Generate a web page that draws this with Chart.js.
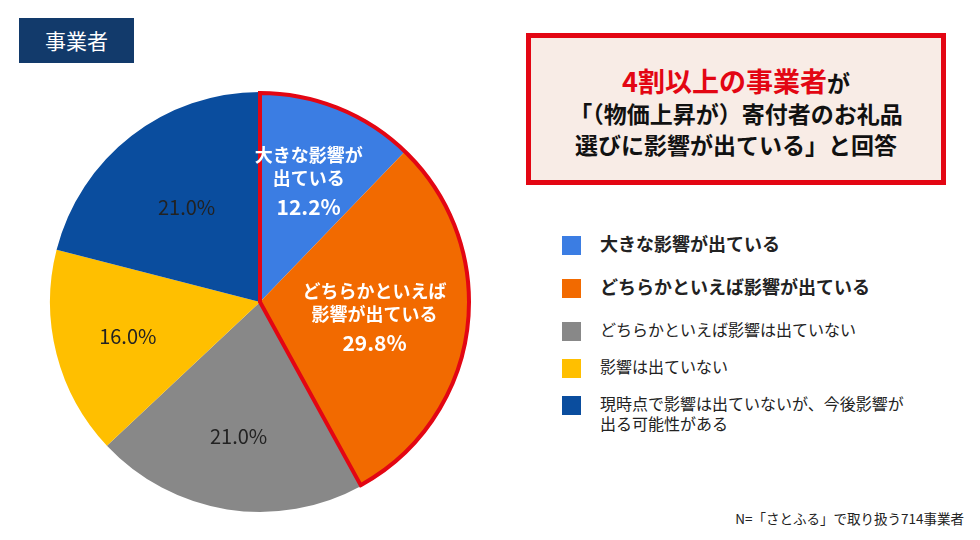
<!DOCTYPE html>
<html><head><meta charset="utf-8">
<script src="https://cdn.jsdelivr.net/npm/chart.js@4"></script>
<style>
body{margin:0;width:980px;height:540px;background:#fff;position:relative;font-family:"Noto Sans CJK JP",sans-serif;overflow:hidden}
#tag{position:absolute;left:19px;top:18px;width:115px;height:45px;background:#123a6b;color:#fff;font-size:21px;line-height:45px;text-align:center}
#wrap{position:absolute;left:40px;top:82px;width:440px;height:440px}
#box{position:absolute;left:526px;top:33px;width:420px;height:152px;box-sizing:border-box;border:5px solid #e30613;background:#f8ece6;text-align:center;font-weight:bold;font-size:23px;line-height:31px;padding-top:27px;color:#111}
#box .r{color:#e30613;font-size:27px}
#legend{position:absolute;left:562px;top:233px}
.it{position:relative;height:37px;padding-left:38px;font-size:16px;color:#222;line-height:20px}
.it i{position:absolute;left:0;top:3px;width:19px;height:19px}
.b{font-weight:bold;font-size:18px;height:43px}
#note{position:absolute;right:16px;top:508px;font-size:13.5px;color:#222}
</style></head><body>
<div id="tag">事業者</div>
<div id="wrap"><canvas id="c"></canvas></div>
<div id="box"><span class="r">4割以上の事業者</span>が<br>「（物価上昇が）寄付者のお礼品<br>選びに影響が出ている」と回答</div>
<div id="legend"></div>
<div id="note">N=「さとふる」で取り扱う714事業者</div>
<script>
const categories=["大きな影響が出ている","どちらかといえば影響が出ている","どちらかといえば影響は出ていない","影響は出ていない","現時点で影響は出ていないが、今後影響が\n出る可能性がある"];
const values=[12.2,29.8,21.0,16.0,21.0];
const colors=["#3b7de3","#f26a00","#888888","#ffbf00","#0a4d9e"];
const sliceLabels=[["大きな影響が","出ている"],["どちらかといえば","影響が出ている"],[],[],[]];
const labelR=[0.62,0.55,0.65,0.65,0.57];

const leg=document.getElementById('legend');
categories.forEach((c,i)=>{const d=document.createElement('div');d.className='it'+(i<2?' b':'');
d.innerHTML='<i style="background:'+colors[i]+'"></i>'+c.replace('\n','<br>');leg.appendChild(d);});

const plug={id:'p',afterDatasetsDraw(ch){
 const ctx=ch.ctx,meta=ch.getDatasetMeta(0);
 const a0=meta.data[0],a1=meta.data[1];
 ctx.save();ctx.strokeStyle='#e30613';ctx.lineWidth=4;ctx.lineJoin='miter';
 ctx.beginPath();ctx.moveTo(a0.x,a0.y);ctx.arc(a0.x,a0.y,a0.outerRadius-1,a0.startAngle,a1.endAngle);ctx.closePath();ctx.stroke();
 meta.data.forEach((a,i)=>{
  const m=(a.startAngle+a.endAngle)/2,r=a.outerRadius*labelR[i];
  const x=a.x+Math.cos(m)*r,y=a.y+Math.sin(m)*r;
  ctx.textAlign='center';ctx.textBaseline='middle';
  const pct=values[i].toFixed(1)+'%';
  if(sliceLabels[i].length){
   ctx.fillStyle='#fff';ctx.font='bold 18px "Noto Sans CJK JP"';
   const L=sliceLabels[i];
   ctx.fillText(L[0],x,y-26);ctx.fillText(L[1],x,y-3);
   ctx.font='bold 21px "Noto Sans CJK JP"';ctx.fillText(pct,x,y+26);
  } else {
   ctx.fillStyle='#222';ctx.font='20px "Noto Sans CJK JP"';ctx.fillText(pct,x,y);
  }
 });
 ctx.restore();}};

new Chart(document.getElementById('c'),{type:'pie',
 data:{labels:categories,datasets:[{data:values,backgroundColor:colors,borderWidth:0}]},
 options:{responsive:true,maintainAspectRatio:false,animation:false,layout:{padding:10},
  plugins:{legend:{display:false},tooltip:{enabled:false}}},
 plugins:[plug]});
</script></body></html>
